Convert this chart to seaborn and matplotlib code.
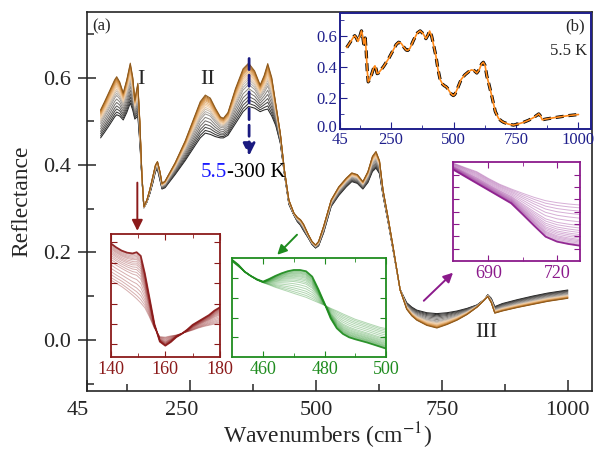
import numpy as np
import pandas as pd
import matplotlib
matplotlib.use("Agg")
import matplotlib.pyplot as plt
import seaborn as sns
from matplotlib.colors import LinearSegmentedColormap
from matplotlib.ticker import FixedLocator
from matplotlib.transforms import ScaledTranslation

# ---------------- data ----------------
wavenumber = [72, 80, 90, 100, 104, 110, 117, 124, 131, 136, 140, 146, 150, 154, 158,
              164, 170, 176, 181, 185, 190, 194, 200, 220, 240, 260, 270, 280, 290,
              300, 310, 316, 325, 340, 355, 366, 378, 389, 397, 404, 412, 420, 429,
              437, 446, 456, 463, 469, 475, 485, 492, 499, 505, 515, 530, 545, 560,
              571, 582, 593, 603, 612, 619, 626, 633, 643, 653, 667, 680, 690, 700,
              720, 740, 760, 780, 800, 820, 835, 841, 848, 855, 870, 900, 930, 960, 1000]
r_5K = [0.526, 0.545, 0.570, 0.595, 0.602, 0.590, 0.565, 0.595, 0.633, 0.600, 0.549,
        0.587, 0.500, 0.380, 0.305, 0.320, 0.345, 0.375, 0.400, 0.408, 0.385, 0.358,
        0.363, 0.405, 0.455, 0.515, 0.545, 0.560, 0.553, 0.530, 0.510, 0.507, 0.520,
        0.575, 0.620, 0.633, 0.615, 0.583, 0.605, 0.632, 0.600, 0.540, 0.473, 0.390,
        0.320, 0.290, 0.280, 0.275, 0.265, 0.240, 0.225, 0.217, 0.225, 0.260, 0.320,
        0.350, 0.370, 0.382, 0.378, 0.362, 0.385, 0.420, 0.431, 0.410, 0.343, 0.280,
        0.213, 0.114, 0.070, 0.055, 0.045, 0.033, 0.027, 0.035, 0.045, 0.058, 0.075,
        0.092, 0.099, 0.085, 0.061, 0.066, 0.074, 0.081, 0.088, 0.095]
r_300K = [0.462, 0.475, 0.492, 0.510, 0.515, 0.512, 0.503, 0.520, 0.542, 0.525, 0.505,
          0.512, 0.450, 0.370, 0.302, 0.315, 0.335, 0.360, 0.385, 0.390, 0.365, 0.345,
          0.348, 0.378, 0.410, 0.445, 0.462, 0.473, 0.470, 0.465, 0.462, 0.462, 0.468,
          0.495, 0.522, 0.534, 0.530, 0.522, 0.526, 0.528, 0.512, 0.490, 0.450, 0.380,
          0.310, 0.285, 0.270, 0.262, 0.250, 0.232, 0.218, 0.210, 0.215, 0.245, 0.305,
          0.330, 0.350, 0.362, 0.358, 0.345, 0.360, 0.385, 0.393, 0.380, 0.330, 0.270,
          0.205, 0.115, 0.085, 0.075, 0.068, 0.062, 0.060, 0.062, 0.066, 0.072, 0.080,
          0.093, 0.103, 0.095, 0.076, 0.083, 0.092, 0.100, 0.107, 0.114]

temperatures = ["5.5", "10", "20", "30", "40", "50", "60", "70", "80", "90", "100",
                "120", "140", "160", "180", "200", "225", "250", "300"]
# reflectance of each temperature curve at the 366 cm-1 maximum
r_at_366 = [0.633, 0.630, 0.627, 0.624, 0.621, 0.618, 0.614, 0.610, 0.606, 0.601,
            0.596, 0.590, 0.584, 0.575, 0.566, 0.557, 0.549, 0.541, 0.534]

# inset (c): 140-180 cm-1
c_x = [140, 142, 144, 146, 148, 149.5, 151, 152.5, 154, 156, 158, 160, 162, 164, 166,
       168, 170, 172, 174, 176, 178, 180]
c_5K = [0.548, 0.538, 0.530, 0.525, 0.523, 0.526, 0.517, 0.474, 0.421, 0.350, 0.307,
        0.297, 0.306, 0.318, 0.326, 0.336, 0.348, 0.356, 0.364, 0.372, 0.383, 0.391]
c_300K = [0.458, 0.450, 0.442, 0.432, 0.421, 0.412, 0.402, 0.390, 0.370, 0.340, 0.319,
          0.318, 0.321, 0.323, 0.327, 0.331, 0.335, 0.340, 0.344, 0.347, 0.350, 0.353]

# inset (d): 450-500 cm-1
d_x = list(range(450, 501, 2))
d_5K = [0.2983, 0.2933, 0.2865, 0.2822, 0.2788, 0.2764, 0.2791, 0.2822, 0.2848, 0.2869,
        0.2882, 0.2882, 0.2869, 0.2815, 0.2687, 0.2545, 0.2394, 0.2293, 0.2236, 0.2202,
        0.2182, 0.2165, 0.2148, 0.2128, 0.2108, 0.2088]
d_300K = [0.2966, 0.2916, 0.2865, 0.2822, 0.2781, 0.2754, 0.2731, 0.2707, 0.2687, 0.2667,
          0.2646, 0.2626, 0.2606, 0.2579, 0.2552, 0.2525, 0.2495, 0.2468, 0.2438, 0.2411,
          0.2384, 0.2364, 0.2343, 0.2323, 0.2303, 0.2290]

# inset (e): 675-730 cm-1
e_x = list(range(675, 731, 5))
e_5K = [0.0938, 0.0884, 0.0830, 0.0776, 0.0722, 0.0668, 0.0578, 0.0486, 0.0397, 0.0357,
        0.0338, 0.0324]
e_300K = [0.0992, 0.0957, 0.0924, 0.0870, 0.0822, 0.0784, 0.0749, 0.0716, 0.0689, 0.0673,
          0.0662, 0.0654]

# ---------------- style ----------------
sns.set_style("ticks")
plt.rcParams["font.family"] = ["Liberation Serif", "DejaVu Serif"]
plt.rcParams["mathtext.fontset"] = "stix"

NAVY = "#1f1f8c"
RED = "#8b1a1a"
GREEN = "#1f8c1f"
PURPLE = "#8b1a8b"


def family(x, lo, hi):
    """Long table of every temperature curve, placed by its read value at 366 cm-1."""
    lo = np.asarray(lo)
    hi = np.asarray(hi)
    rows = []
    top, bot = r_at_366[0], r_at_366[-1]
    for t, v in zip(temperatures, r_at_366):
        w = (top - v) / (top - bot)
        rows.append(pd.DataFrame({"wn": x, "R": lo + w * (hi - lo), "T": t}))
    return pd.concat(rows, ignore_index=True)


cmap = LinearSegmentedColormap.from_list(
    "tc", [(0.0, "#8f5a1c"), (0.12, "#d08a3c"), (0.45, "#f4d3ad"),
           (0.6, "#b9b3ac"), (1.0, "#262626")])
palette = {t: cmap(i / (len(temperatures) - 1)) for i, t in enumerate(temperatures)}

fig = plt.figure(figsize=(5.95, 4.53), dpi=100)
ax = fig.add_axes([0.1462, 0.1369, 0.8487, 0.8366])

df_main = family(wavenumber, r_5K, r_300K)
sns.lineplot(data=df_main, x="wn", y="R", hue="T", hue_order=temperatures[::-1],
             palette=palette, legend=False, ax=ax, linewidth=0.75, estimator=None)

ax.set_xlim(45, 1048)
ax.set_ylim(-0.117, 0.75)
ax.set_xticks([45, 250, 500, 750, 1000])
ax.xaxis.set_minor_locator(FixedLocator([125, 375, 625, 875]))
ax.set_yticks([0.0, 0.2, 0.4, 0.6])
ax.set_yticklabels(["0.0", "0.2", "0.4", "0.6"])
ax.yaxis.set_minor_locator(FixedLocator([-0.1, 0.1, 0.3, 0.5, 0.7]))
ax.tick_params(axis="x", which="major", direction="in", length=8, width=1.1,
               labelsize=16, pad=7)
ax.tick_params(axis="x", which="minor", direction="in", length=5, width=1.1)
ax.tick_params(axis="y", which="major", direction="inout", length=13, width=1.1,
               labelsize=16, pad=5)
ax.tick_params(axis="y", which="minor", direction="in", length=5, width=1.1)
for s in ax.spines.values():
    s.set_linewidth(1.2)
ax.set_xlabel("Wavenumbers (cm$^{-1}$)", fontsize=17, labelpad=0)
ax.xaxis.set_label_coords(0.477, -0.078)
ax.set_ylabel("Reflectance", fontsize=17, labelpad=8)
# the reference prints its first two x labels a little left of their ticks
shift = ScaledTranslation(-9 / 100, 0, fig.dpi_scale_trans)
for lab in ax.get_xticklabels()[:2]:
    lab.set_transform(lab.get_transform() + shift)

ax.text(56, 0.716, "(a)", fontsize=12, va="center")
ax.text(153, 0.595, "I", fontsize=16, ha="center", va="center")
ax.text(284, 0.595, "II", fontsize=16, ha="center", va="center")
ax.text(839, 0.016, "III", fontsize=16, ha="center", va="center")
t1 = ax.text(270, 0.382, "5.5", color="#1a1aff", fontsize=15, va="center")
ax.annotate("-300 K", xy=(1, 0.5), xycoords=t1, va="center", fontsize=15,
            color="black")

ax.annotate("", xy=(367, 0.415), xytext=(367, 0.65),
            arrowprops=dict(arrowstyle="-|>", color="#1a1a80", lw=2.0,
                            linestyle=(0, (4, 2)), mutation_scale=18))
ax.annotate("", xy=(145, 0.243), xytext=(145, 0.366),
            arrowprops=dict(arrowstyle="-|>", color=RED, lw=1.4, mutation_scale=16))
ax.annotate("", xy=(419, 0.19), xytext=(466, 0.245),
            arrowprops=dict(arrowstyle="-|>", color=GREEN, lw=1.4, mutation_scale=14))
ax.annotate("", xy=(776, 0.158), xytext=(710, 0.085),
            arrowprops=dict(arrowstyle="-|>", color=PURPLE, lw=1.4, mutation_scale=14))

# ---------------- inset (b) ----------------
axb = fig.add_axes([0.5714, 0.7146, 0.4218, 0.2574])
df_b = pd.DataFrame({"wn": wavenumber, "R": r_5K})
sns.lineplot(data=df_b, x="wn", y="R", ax=axb, color="black", linewidth=2.3,
             linestyle=(0, (2.5, 1.5)), estimator=None)
sns.lineplot(data=df_b, x="wn", y="R", ax=axb, color="#ff8a1a", linewidth=1.2,
             estimator=None)
axb.set_xlim(45, 1050)
axb.set_ylim(0, 0.75)
axb.set_xticks([45, 250, 500, 750, 1000])
axb.xaxis.set_minor_locator(FixedLocator([125, 375, 625, 875]))
axb.set_yticks([0.0, 0.2, 0.4, 0.6])
axb.set_yticklabels(["0.0", "0.2", "0.4", "0.6"])
axb.yaxis.set_minor_locator(FixedLocator([0.1, 0.3, 0.5, 0.7]))
axb.tick_params(which="both", direction="in", colors=NAVY, labelsize=12, pad=2)
axb.tick_params(which="major", length=5)
axb.tick_params(which="minor", length=3)
axb.set_xlabel("")
axb.set_ylabel("")
for s in axb.spines.values():
    s.set_color(NAVY)
    s.set_linewidth(1.4)
lab00 = axb.get_yticklabels()[0]
lab00.set_transform(lab00.get_transform() +
                    ScaledTranslation(0, 3 / 100, fig.dpi_scale_trans))
axb.text(0.976, 0.88, "(b)", transform=axb.transAxes, ha="right", va="center",
         fontsize=12)
axb.text(0.984, 0.67, "5.5 K", transform=axb.transAxes, ha="right", va="center",
         fontsize=12)


# ---------------- zoom insets ----------------
def zoom_inset(rect, x, lo, hi, color, xlim, ylim, xt, xminor, yminor):
    a = fig.add_axes(rect)
    df = family(x, lo, hi)
    pal = {t: color for t in temperatures}
    sns.lineplot(data=df, x="wn", y="R", hue="T", palette=pal, legend=False, ax=a,
                 linewidth=0.7, alpha=0.35, estimator=None)
    sns.lineplot(data=df[df["T"] == temperatures[0]], x="wn", y="R", ax=a,
                 color=color, linewidth=1.3, alpha=0.9, estimator=None)
    a.set_xlim(*xlim)
    a.set_ylim(*ylim)
    a.set_xticks(xt)
    a.xaxis.set_minor_locator(FixedLocator(xminor))
    a.yaxis.set_major_locator(FixedLocator(yminor))
    a.set_yticklabels([])
    a.tick_params(which="both", direction="in", colors=color, labelsize=13,
                  top=True, right=True, pad=3)
    a.tick_params(which="major", length=4)
    a.tick_params(which="minor", length=3)
    a.set_xlabel("")
    a.set_ylabel("")
    for s in a.spines.values():
        s.set_color(color)
        s.set_linewidth(1.3)
    return a


zoom_inset([0.186, 0.2126, 0.1837, 0.2702], c_x, c_5K, c_300K, RED,
           (140, 180), (0.27, 0.57), [140, 160, 180], [150, 170],
           [0.30, 0.35, 0.40, 0.45, 0.50, 0.55])
zoom_inset([0.3904, 0.2113, 0.2583, 0.2185], d_x, d_5K, d_300K, GREEN,
           (450, 500), (0.20, 0.30), [460, 480, 500], [470, 490],
           [0.22, 0.24, 0.26, 0.28])
zoom_inset([0.7608, 0.4238, 0.214, 0.2179], e_x, e_5K, e_300K, PURPLE,
           (674.5, 730), (0.02, 0.10), [690, 720], [705],
           [0.03, 0.04, 0.05, 0.06, 0.07, 0.08, 0.09])

fig.savefig("out.png", dpi=100)
